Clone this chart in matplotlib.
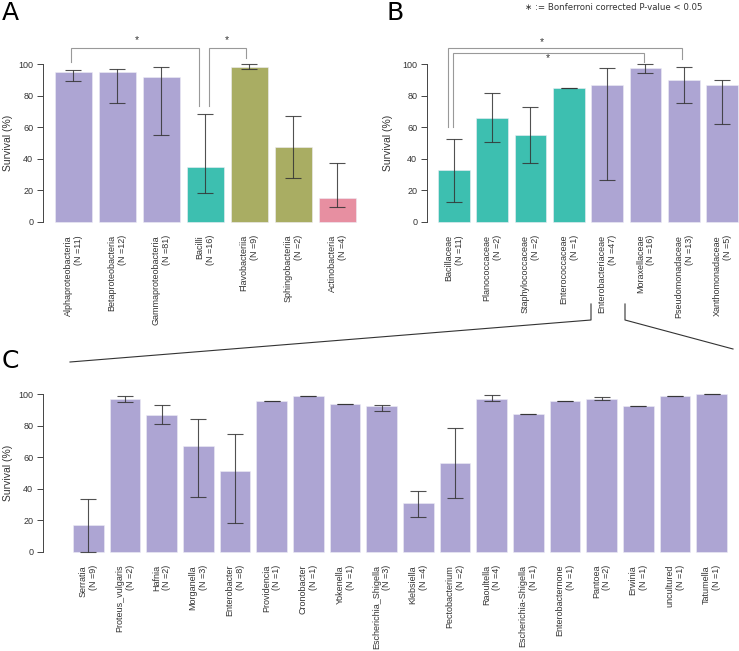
import matplotlib
matplotlib.use('Agg')
import matplotlib.pyplot as plt
from matplotlib.lines import Line2D

purple = '#ada5d3'
teal = '#3dbfb0'
olive = '#a9ad63'
pink = '#e78fa1'

# panel A: classes
class_names = ['Alphaproteobacteria', 'Betaproteobacteria', 'Gammaproteobacteria',
               'Bacilli', 'Flavobacteriia', 'Sphingobacteriia', 'Actinobacteria']
class_n = [11, 12, 81, 16, 9, 2, 4]
class_surv = [95, 95, 92, 35, 98, 47.5, 15]
class_lo = [89, 75.6, 54.8, 18.5, 96.8, 27.7, 9.7]
class_hi = [96.4, 97, 98.1, 68.5, 100, 67.2, 37.2]
class_col = [purple, purple, purple, teal, olive, olive, pink]

# panel B: families
fam_names = ['Bacillaceae', 'Planococcaceae', 'Staphylococcaceae', 'Enterococcaceae',
             'Enterobacteriaceae', 'Moraxellaceae', 'Pseudomonadaceae', 'Xanthomonadaceae']
fam_n = [11, 2, 2, 1, 47, 16, 13, 5]
fam_surv = [32.8, 65.9, 54.9, 84.8, 86.9, 97.5, 89.9, 86.9]
fam_lo = [12.8, 50.7, 37.5, 84.8, 26.5, 94.3, 75.2, 62.1]
fam_hi = [52.6, 81.7, 72.6, 84.8, 97.5, 100, 97.9, 89.9]
fam_col = [teal, teal, teal, teal, purple, purple, purple, purple]

# panel C: genera within Enterobacteriaceae
gen_names = ['Serratia', 'Proteus_vulgaris', 'Hafnia', 'Morganella', 'Enterobacter',
             'Providencia', 'Cronobacter', 'Yokenella', 'Escherichia_Shigella',
             'Klebsiella', 'Pectobacterium', 'Raoultella', 'Escherichia-Shigella',
             'Enterobacternone', 'Pantoea', 'Erwinia', 'uncultured', 'Tatumella']
gen_n = [9, 2, 2, 3, 8, 1, 1, 1, 3, 4, 2, 4, 1, 1, 2, 1, 1, 1]
gen_surv = [17.3, 96.8, 86.7, 67.4, 51.4, 95.4, 98.5, 93.5, 92.4,
            30.7, 56.2, 96.8, 87.6, 95.4, 96.8, 92.4, 98.5, 100]
gen_lo = [0, 95.2, 81.3, 35, 18.3, 95.4, 98.5, 93.5, 89.1,
          22.1, 34.1, 95.4, 87.6, 95.4, 96, 92.4, 98.5, 100]
gen_hi = [33.5, 98.5, 92.8, 84, 75, 95.4, 98.5, 93.5, 92.8,
          38.7, 78.3, 99.2, 87.6, 95.4, 97.9, 92.4, 98.5, 100]

W, H = 739, 651
lab_font = ['Liberation Sans', 'DejaVu Sans']


def panel(rect, names, ns, surv, lo, hi, cols, xlim, width, ylab_x):
    ax = fig.add_axes(rect)
    x = list(range(len(names)))
    ax.bar(x, surv, width=width, color=cols, edgecolor='#eeedf5', linewidth=0.4)
    yerr = [[s - l for s, l in zip(surv, lo)], [h - s for s, h in zip(surv, hi)]]
    ax.errorbar(x, surv, yerr=yerr, fmt='none', ecolor='#333333', alpha=0.85,
                elinewidth=0.8, capsize=6, capthick=0.8)
    ax.set_xlim(xlim)
    ax.set_ylim(-4, 104)
    for s in ['top', 'right', 'bottom']:
        ax.spines[s].set_visible(False)
    ax.spines['left'].set_bounds(0, 100)
    ax.spines['left'].set_color('#444444')
    ax.spines['left'].set_linewidth(0.7)
    ax.set_yticks([0, 20, 40, 60, 80, 100])
    ax.tick_params(axis='y', length=4, width=0.7, color='#444444', pad=3,
                   labelsize=6.5, labelcolor='#333333')
    ax.set_xticks(x)
    ax.set_xticklabels(['%s\n(N =%d)' % (nm, n) for nm, n in zip(names, ns)],
                       rotation=90, ha='center', va='top', multialignment='right',
                       fontsize=6.5, color='#333333', family=lab_font)
    ax.tick_params(axis='x', length=0, pad=4.8)
    for t in ax.get_yticklabels():
        t.set_family(lab_font)
    ax.set_ylabel('Survival (%)', fontsize=7.5, color='#333333', family=lab_font)
    ax.yaxis.set_label_coords(ylab_x, 0.5)
    return ax


def bracket(ax, x1, x2, y, y1, y2, star_x, star_y):
    ax.plot([x1, x1, x2, x2], [y1, y, y, y2], color='#999999', lw=0.8,
            clip_on=False, solid_joinstyle='miter')
    ax.text(star_x, star_y, '*', ha='center', va='center', fontsize=7.5,
            color='#333333', family=lab_font)


fig = plt.figure(figsize=(W / 100, H / 100), dpi=100)

axA = panel([43 / W, 0.6493, 322 / W, 0.262], class_names, class_n, class_surv,
            class_lo, class_hi, class_col, (-0.69, 6.63), 0.833, -0.093)
bracket(axA, -0.05, 3 - 0.15, 110, 101, 73.7, 1.45, 115.5)
bracket(axA, 3 + 0.08, 4 - 0.07, 110, 73.7, 104, 3.5, 115.5)

axB = panel([427 / W, 0.6493, 312 / W, 0.262], fam_names, fam_n, fam_surv,
            fam_lo, fam_hi, fam_col, (-0.70, 7.44), 0.826, -0.109)
bracket(axB, -0.16, 6 - 0.06, 110.1, 60, 103.2, 2.3, 114)
bracket(axB, -0.03, 5 - 0.04, 107, 60, 101.5, 2.45, 103.5)

axC = panel([43 / W, 0.1424, 696 / W, 0.262], gen_names, gen_n, gen_surv,
            gen_lo, gen_hi, [purple] * len(gen_names), (-1.24, 17.75), 0.836, -0.043)

# connector from Enterobacteriaceae to panel C
for pts in ([(591, 304), (591, 320), (70, 362)], [(625, 304), (625, 320), (733, 349)]):
    fig.add_artist(Line2D([p[0] / W for p in pts], [1 - p[1] / H for p in pts],
                          color='#333333', lw=0.8))

fig.text(2 / W, 1 - 1 / H, 'A', fontsize=18, va='top', ha='left')
fig.text(386 / W, 1 - 1 / H, 'B', fontsize=18, va='top', ha='left')
fig.text(2 / W, 1 - 349 / H, 'C', fontsize=18, va='top', ha='left')
fig.text(525 / W, 1 - 8 / H, '\u2217 := Bonferroni corrected P-value < 0.05',
         fontsize=6.2, va='center', ha='left', color='#333333', family='DejaVu Sans')

fig.savefig('out.png', dpi=100)
